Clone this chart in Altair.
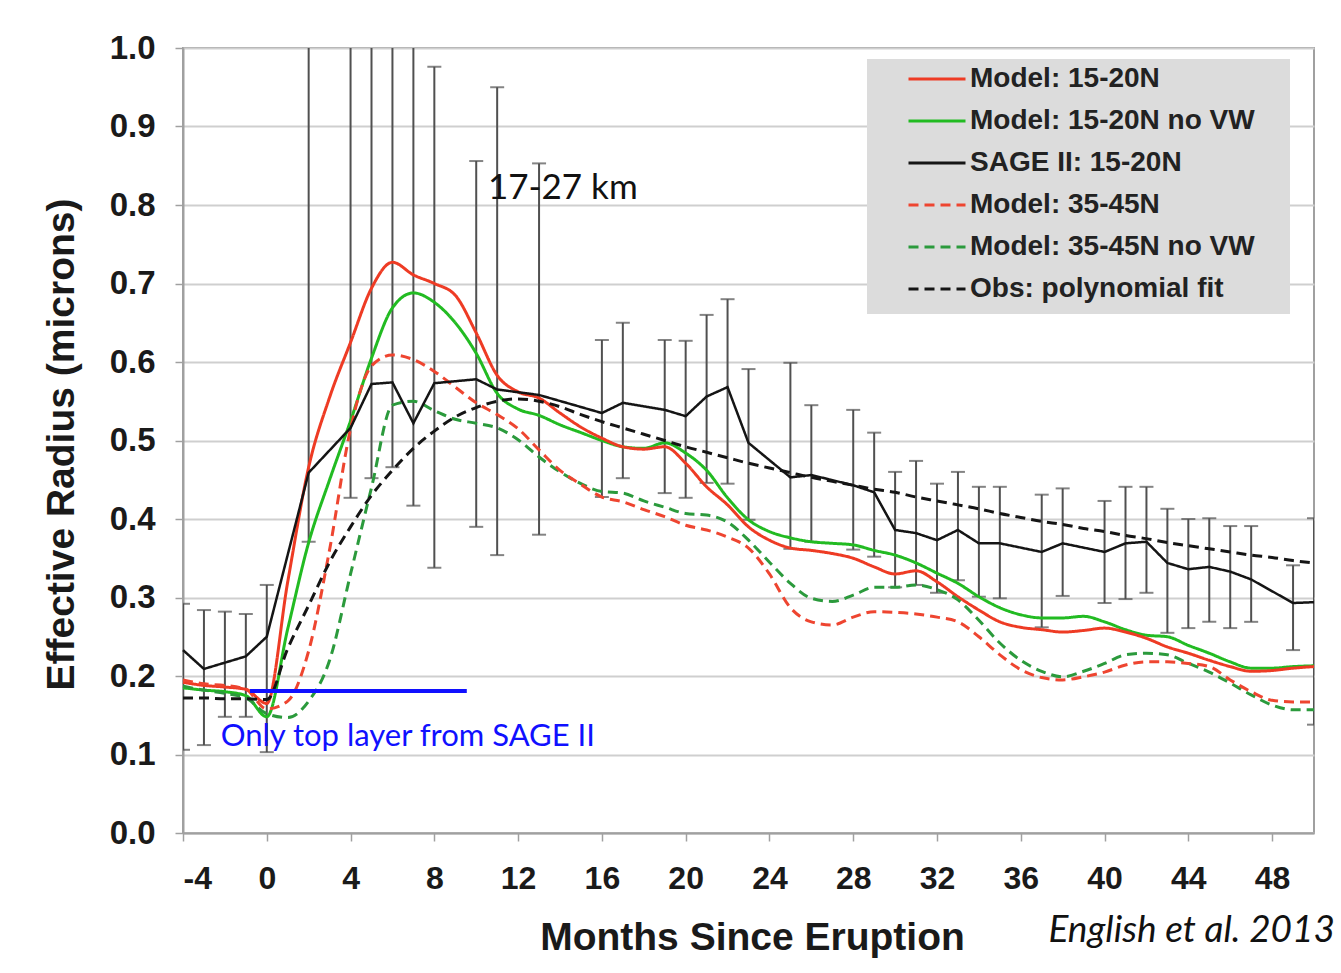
import altair as alt
import pandas as pd

# ---------------- data ----------------
months = list(range(-4, 51))

model_15_20 = [0.192, 0.188, 0.186, 0.183, 0.165,
               0.32, 0.466, 0.555, 0.625, 0.694, 0.727, 0.711, 0.700, 0.685, 0.637,
               0.583, 0.562, 0.554, 0.535, 0.517, 0.503, 0.492, 0.489, 0.492, 0.471,
               0.441, 0.418, 0.390, 0.373, 0.363, 0.360, 0.356, 0.350, 0.339, 0.330,
               0.334, 0.320, 0.301, 0.284, 0.269, 0.262, 0.259, 0.256, 0.258, 0.261,
               0.256, 0.248, 0.237, 0.229, 0.220, 0.212, 0.206, 0.207, 0.210, 0.212]

model_15_20_novw = [0.185, 0.182, 0.180, 0.175, 0.148,
                    0.26, 0.37, 0.45, 0.525, 0.605, 0.669, 0.688, 0.676, 0.650, 0.611,
                    0.560, 0.540, 0.532, 0.520, 0.510, 0.500, 0.492, 0.490, 0.497, 0.484,
                    0.462, 0.427, 0.399, 0.384, 0.376, 0.371, 0.369, 0.367, 0.360, 0.354,
                    0.344, 0.331, 0.318, 0.301, 0.287, 0.278, 0.274, 0.274, 0.276, 0.269,
                    0.259, 0.252, 0.250, 0.239, 0.229, 0.218, 0.210, 0.210, 0.212, 0.213]

model_35_45 = [0.195, 0.190, 0.188, 0.183, 0.158,
               0.168, 0.232, 0.361, 0.515, 0.595, 0.609, 0.603, 0.588, 0.568, 0.548,
               0.533, 0.515, 0.488, 0.462, 0.444, 0.428, 0.422, 0.412, 0.403, 0.392,
               0.386, 0.377, 0.363, 0.330, 0.287, 0.269, 0.265, 0.275, 0.282, 0.281,
               0.279, 0.275, 0.269, 0.250, 0.227, 0.208, 0.198, 0.195, 0.199, 0.205,
               0.214, 0.218, 0.218, 0.216, 0.212, 0.195, 0.180, 0.169, 0.167, 0.167]

model_35_45_novw = [0.187, 0.182, 0.178, 0.172, 0.152,
                    0.147, 0.168, 0.220, 0.330, 0.440, 0.545, 0.550, 0.538, 0.527, 0.522,
                    0.516, 0.501, 0.479, 0.460, 0.445, 0.435, 0.433, 0.423, 0.415, 0.407,
                    0.405, 0.396, 0.373, 0.345, 0.318, 0.299, 0.295, 0.303, 0.313, 0.313,
                    0.316, 0.310, 0.297, 0.271, 0.242, 0.220, 0.206, 0.199, 0.206, 0.216,
                    0.227, 0.229, 0.227, 0.216, 0.205, 0.191, 0.176, 0.163, 0.157, 0.157]

poly_fit = [0.172, 0.172, 0.171, 0.171, 0.170,
            0.235, 0.290, 0.345, 0.390, 0.430, 0.462, 0.490, 0.512, 0.530, 0.542,
            0.550, 0.553, 0.550, 0.543, 0.533, 0.524, 0.516, 0.508, 0.500, 0.492,
            0.485, 0.478, 0.471, 0.465, 0.459, 0.453, 0.448, 0.443, 0.438, 0.434,
            0.428, 0.423, 0.418, 0.413, 0.407, 0.402, 0.397, 0.393, 0.388, 0.384,
            0.379, 0.375, 0.370, 0.366, 0.362, 0.358, 0.354, 0.351, 0.347, 0.344]

sage_months = [-4, -3, -2, -1, 0, 2, 4, 5, 6, 7, 8, 10, 11, 13, 16, 17, 19, 20, 21, 22,
               23, 25, 26, 28, 29, 30, 31, 32, 33, 34, 35, 37, 38, 40, 41, 42, 43, 44,
               45, 46, 47, 49, 50]
sage_mean = [0.233, 0.209, 0.217, 0.225, 0.250, 0.459, 0.516, 0.572, 0.574, 0.522,
             0.573, 0.578, 0.565, 0.558, 0.535, 0.548, 0.539, 0.531, 0.556, 0.568,
             0.497, 0.453, 0.456, 0.443, 0.434, 0.386, 0.382, 0.373, 0.386, 0.369,
             0.369, 0.358, 0.369, 0.358, 0.369, 0.371, 0.344, 0.336, 0.339, 0.333,
             0.323, 0.293, 0.294]
sage_low = [0.106, 0.112, 0.148, 0.148, 0.103, 0.371, 0.427, 0.452, 0.466, 0.417,
            0.338, 0.390, 0.354, 0.380, 0.428, 0.452, 0.433, 0.427, 0.446, 0.445,
            0.399, 0.362, 0.371, 0.361, 0.352, 0.313, 0.316, 0.306, 0.322, 0.301,
            0.299, 0.262, 0.302, 0.293, 0.298, 0.306, 0.255, 0.261, 0.269, 0.261,
            0.269, 0.233, 0.138]
sage_high = [0.292, 0.284, 0.282, 0.279, 0.316, 1.2, 1.2, 1.2, 1.2, 1.2,
             0.976, 0.856, 0.950, 0.853, 0.628, 0.650, 0.628, 0.627, 0.660, 0.680,
             0.591, 0.599, 0.545, 0.539, 0.510, 0.460, 0.474, 0.445, 0.460, 0.441,
             0.441, 0.431, 0.439, 0.423, 0.441, 0.441, 0.413, 0.400, 0.401, 0.391,
             0.391, 0.341, 0.401]

series_names = ["Model: 15-20N", "Model: 15-20N no VW", "SAGE II: 15-20N",
                "Model: 35-45N", "Model: 35-45N no VW", "Obs: polynomial fit"]
series_colors = ["#ee3b24", "#22bb22", "#151515", "#ee4530", "#2b9a3c", "#151515"]
series_dashes = [[1, 0], [1, 0], [1, 0], [10, 6], [10, 6], [10, 6]]

blue_line_months = [-0.8, 9.55]
blue_line_value = [0.181, 0.181]

annotations = pd.DataFrame({
    "x": [10.56, -2.2],
    "y": [0.822, 0.122],
    "text": ["17-27 km", "Only top layer from SAGE II"],
    "color": ["#111111", "#1010ff"],
    "size": [35, 31],
})

# ---------------- tables ----------------
curves = {
    "Model: 15-20N": model_15_20,
    "Model: 15-20N no VW": model_15_20_novw,
    "Model: 35-45N": model_35_45,
    "Model: 35-45N no VW": model_35_45_novw,
    "Obs: polynomial fit": poly_fit,
}
order = ["Model: 15-20N no VW", "Model: 15-20N", "Model: 35-45N no VW",
         "Model: 35-45N", "Obs: polynomial fit"]
rows = []
for k, name in enumerate(order):
    for m, v in zip(months, curves[name]):
        rows.append({"month": m, "value": v, "series": name, "ord": k})
model_df = pd.DataFrame(rows)

sage_df = pd.DataFrame({"month": sage_months, "value": sage_mean,
                        "low": sage_low, "high": sage_high,
                        "series": "SAGE II: 15-20N"})
blue_df = pd.DataFrame({"month": blue_line_months, "value": blue_line_value})

AXIS_FONT = "Liberation Sans"

x_scale = alt.Scale(domain=[-4, 50], nice=False, zero=False)
y_scale = alt.Scale(domain=[0, 1], nice=False)

x_enc = alt.X("month:Q", scale=x_scale,
              axis=alt.Axis(values=list(range(-4, 49, 4)), grid=False,
                            title="Months Since Eruption", labelExpr="'' + datum.value",
                            tickSize=8, labelPadding=22, labelFontSize=32,
                            titleFontSize=39, titleX=569, titleY=104,
                            titleBaseline="middle"))
y_enc = alt.Y("value:Q", scale=y_scale,
              axis=alt.Axis(values=[i / 10 for i in range(11)], format=".1f",
                            title="Effective Radius (microns)", grid=True,
                            tickSize=8, labelPadding=20, labelFontSize=33,
                            titleFontSize=39, titleX=-122, titleY=396,
                            titleAngle=-90, titleAlign="center",
                            titleBaseline="middle"))

pad = "\u00a0\u00a0\u00a0\u200b"
legend_spec = alt.Legend(title=None, labelExpr="datum.label + '" + pad + "'")
color_enc = alt.Color("series:N",
                      scale=alt.Scale(domain=series_names, range=series_colors),
                      legend=legend_spec)
dash_enc = alt.StrokeDash("series:N",
                          scale=alt.Scale(domain=series_names, range=series_dashes),
                          legend=legend_spec)

err_bars = alt.Chart(sage_df).mark_rule(color="#505050", strokeWidth=2, clip=True).encode(
    x=x_enc, y=alt.Y("low:Q", scale=y_scale), y2="high:Q")
caps_low = alt.Chart(sage_df).mark_tick(color="#505050", thickness=2, size=14,
                                        orient="horizontal", clip=True).encode(
    x=alt.X("month:Q", scale=x_scale), y=alt.Y("low:Q", scale=y_scale))
caps_high = alt.Chart(sage_df).mark_tick(color="#505050", thickness=2, size=14,
                                         orient="horizontal", clip=True).encode(
    x=alt.X("month:Q", scale=x_scale), y=alt.Y("high:Q", scale=y_scale))

model_lines = alt.Chart(model_df).mark_line(strokeWidth=3, interpolate="monotone").encode(
    x=alt.X("month:Q", scale=x_scale), y=y_enc, color=color_enc, strokeDash=dash_enc,
    order="ord:Q", detail="series:N")

sage_line = alt.Chart(sage_df).mark_line(strokeWidth=2.5).encode(
    x=alt.X("month:Q", scale=x_scale), y=alt.Y("value:Q", scale=y_scale),
    color=color_enc, strokeDash=dash_enc)

blue_line = alt.Chart(blue_df).mark_line(color="#1010ff", strokeWidth=4).encode(
    x=alt.X("month:Q", scale=x_scale), y=alt.Y("value:Q", scale=y_scale))

texts = alt.Chart(annotations).mark_text(font="Lato", align="left",
                                         baseline="middle").encode(
    x=alt.X("x:Q", scale=x_scale), y=alt.Y("y:Q", scale=y_scale),
    text="text:N", color=alt.Color("color:N", scale=None),
    size=alt.Size("size:Q", scale=None))

chart = alt.layer(err_bars, caps_low, caps_high, model_lines, sage_line, blue_line,
                  texts).properties(
    width=1131, height=785,
    autosize=alt.AutoSizeParams(type="none"),
    padding={"left": 183, "top": 48, "right": 27, "bottom": 140},
    title=alt.TitleParams("English et al. 2013", orient="bottom", anchor="end",
                          frame="group", font="Lato", fontStyle="italic",
                          fontWeight="normal", fontSize=37, color="#111111",
                          offset=-44, dx=21),
).configure_view(
    stroke="#a0a0a0", strokeWidth=2
).configure_axis(
    labelFont=AXIS_FONT, titleFont=AXIS_FONT, labelFontWeight="bold",
    titleFontWeight="bold", labelColor="#1a1a1a", titleColor="#1a1a1a",
    gridColor="#cfcfcf", gridWidth=1.8, domainColor="#a0a0a0", domainWidth=2,
    tickColor="#a0a0a0", tickWidth=1.5
).configure_legend(
    orient="none", legendX=684, legendY=11, fillColor="#dcdcdc", padding=11,
    symbolType="stroke", symbolSize=3249, symbolStrokeWidth=3, clipHeight=18,
    rowPadding=14, symbolOffset=29, labelOffset=3,
    labelFont=AXIS_FONT, labelFontWeight="bold", labelFontSize=28,
    labelColor="#222222", labelLimit=500
)

chart.save("out.html", embed_options={"renderer": "svg", "actions": False})
